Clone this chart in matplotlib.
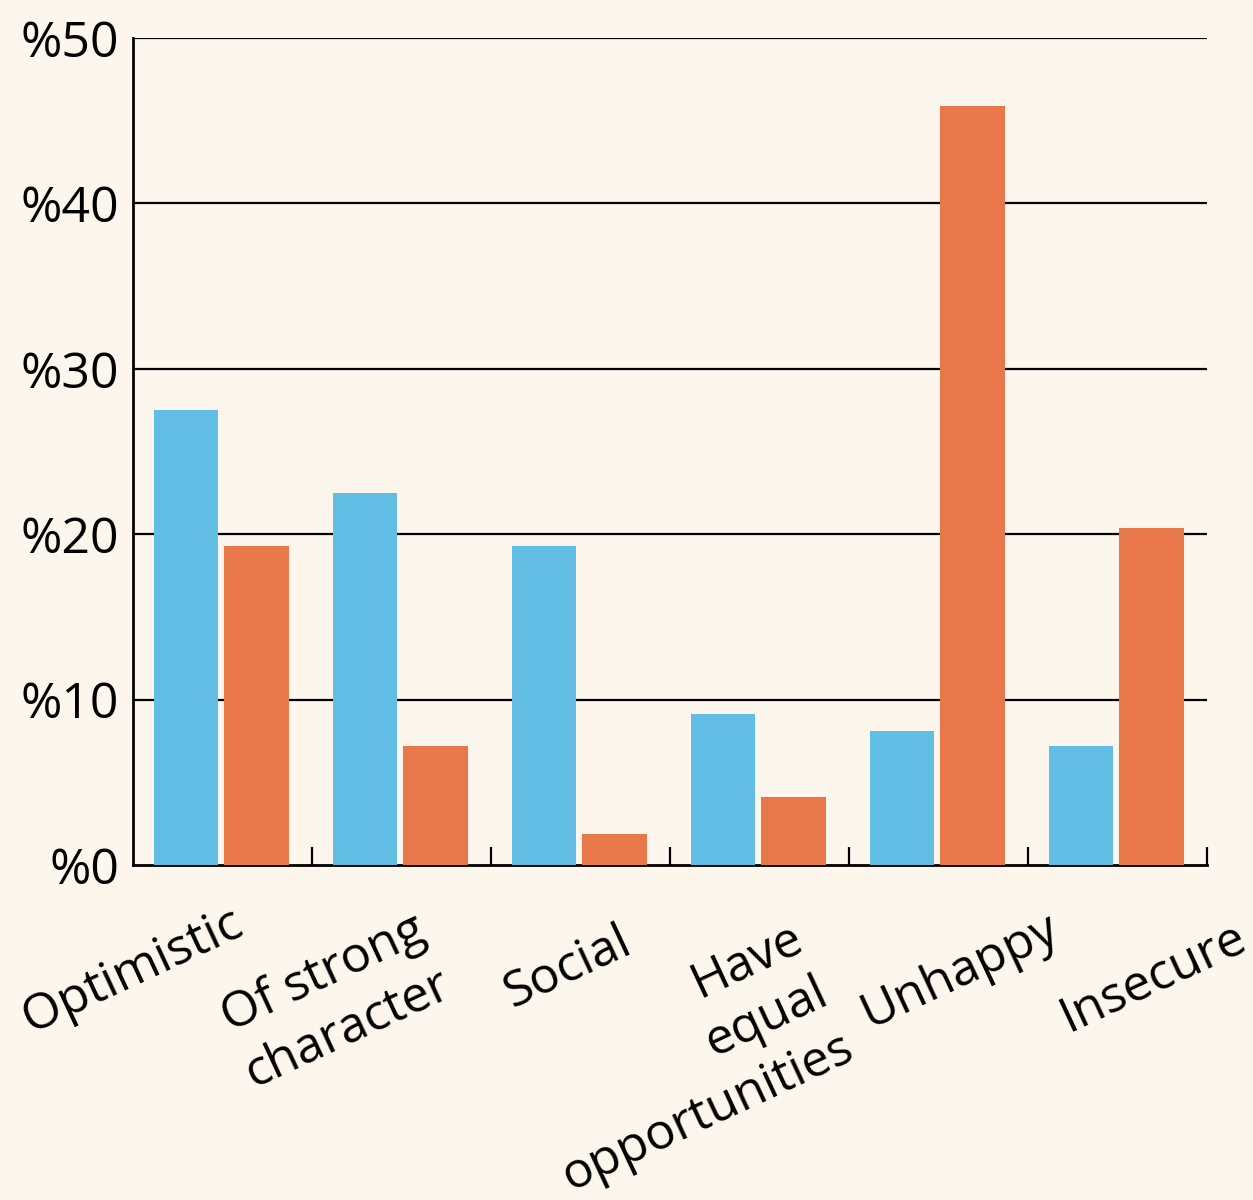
import matplotlib
matplotlib.use("Agg")
import matplotlib.pyplot as plt
import matplotlib.transforms as mtransforms
import numpy as np

categories = ["Optimistic", "Of strong\ncharacter", "Social",
              "Have\nequal\nopportunities", "Unhappy", "Insecure"]
blue_values = [27.5, 22.5, 19.3, 9.1, 8.1, 7.2]
orange_values = [19.3, 7.2, 1.9, 4.1, 45.9, 20.4]
ytick_values = [0, 10, 20, 30, 40, 50]
ytick_labels = ["%0", "%10", "%20", "%30", "%40", "%50"]

BG = "#FDF6EC"
BLUE = "#63BEE5"
ORANGE = "#E8784A"

plt.rcParams['font.family'] = ['Open Sans', 'DejaVu Sans']

fig = plt.figure(figsize=(12.53, 12.0), dpi=100, facecolor=BG)
ax = fig.add_axes([0.1061, 0.2792, 0.8572, 0.6891])
ax.set_facecolor(BG)

x = np.arange(len(categories))
w = 0.36
ax.bar(x + 0.295, blue_values, width=w, color=BLUE, zorder=3)
ax.bar(x + 0.69, orange_values, width=w, color=ORANGE, zorder=3)

ax.set_xlim(0, 6)
ax.set_ylim(0, 50)
ax.set_yticks(ytick_values)
ax.set_yticklabels(ytick_labels, fontsize=36)
ax.tick_params(axis='y', length=0, pad=10)
for v in ytick_values[1:]:
    ax.axhline(v, color='black', lw=1.6, zorder=1)

ax.set_xticks(np.arange(1, 7))
ax.set_xticklabels([])
ax.tick_params(axis='x', direction='in', length=13, width=1.6, color='black')

for s in ['top', 'right']:
    ax.spines[s].set_visible(False)
ax.spines['left'].set_linewidth(2.0)
ax.spines['bottom'].set_linewidth(2.0)
ax.spines['left'].set_zorder(4)
ax.spines['bottom'].set_zorder(2)

# label placement (centres of rotated text blocks)
dx = [-0.50, -0.37, -0.07, -0.43, 0.12, 0.20]
ypix = [972, 1002, 968, 1058, 972, 978]
trans = mtransforms.blended_transform_factory(ax.transData, fig.transFigure)
for i, lab in enumerate(categories):
    xd = i + 0.5 + dx[i]
    yf = 1 - ypix[i] / 1200
    ax.text(xd, yf, lab, transform=trans, rotation=25, rotation_mode='anchor',
            ha='center', va='center', multialignment='right', fontsize=36,
            linespacing=1.28, clip_on=False)

fig.savefig("out.png", dpi=100, facecolor=BG)
